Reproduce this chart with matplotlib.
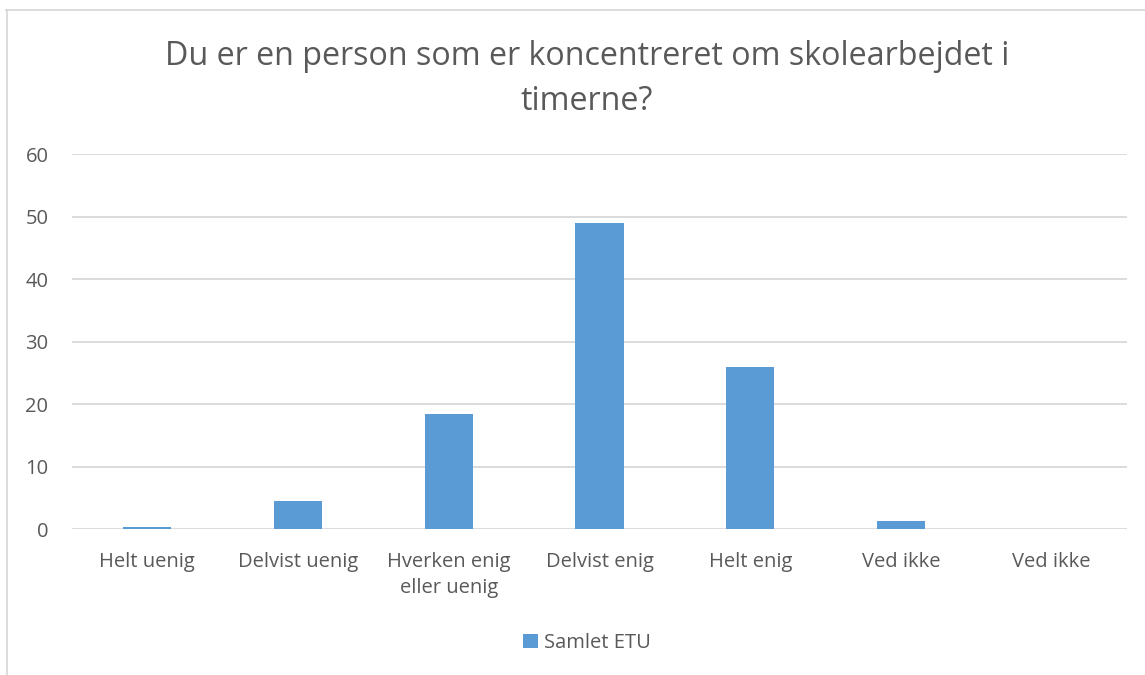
import numpy as np
import matplotlib.pyplot as plt
from matplotlib.lines import Line2D

categories = ['Helt uenig', 'Delvist uenig', 'Hverken enig\neller uenig',
              'Delvist enig', 'Helt enig', 'Ved ikke', 'Ved ikke']
values = [0.4, 4.5, 18.5, 49.0, 26.0, 1.4, 0.0]
series_name = 'Samlet ETU'
title = 'Du er en person som er koncentreret om skolearbejdet i\ntimerne?'

plt.rcParams['font.family'] = ['Open Sans', 'DejaVu Sans']
text_color = '#595959'
grid_color = '#d9d9d9'
bar_color = '#5b9bd5'

fig = plt.figure(figsize=(11.45, 6.75), dpi=100)
ax = fig.add_axes([72/1145, 1 - 529.3/675, (1127 - 72)/1145, (529.3 - 154)/675])

x = np.arange(len(categories))
ax.bar(x, values, width=0.32, color=bar_color, label=series_name, zorder=3)

ax.set_xlim(-0.5, len(categories) - 0.5)
ax.set_ylim(0, 60)
ax.set_yticks(range(0, 61, 10))
ax.set_xticks(x)
ax.set_xticklabels(categories)
ax.tick_params(axis='both', length=0, labelsize=14.5, colors=text_color)
ax.tick_params(axis='x', pad=16)
ax.tick_params(axis='y', pad=17)
for lbl in ax.get_xticklabels():
    lbl.set_linespacing(1.45)
ax.grid(axis='y', color=grid_color, linewidth=1.3, zorder=0)
for s in ax.spines.values():
    s.set_visible(False)

fig.text(587/1145, 1 - 79/675, title, ha='center', va='center',
         fontsize=23.2, color=text_color, linespacing=1.5)

leg = fig.legend(loc='center', bbox_to_anchor=(587/1145, 1 - 643/675),
                 frameon=False, fontsize=14.5, handlelength=0.7, handleheight=0.7,
                 handletextpad=0.3, labelcolor=text_color)

# chart frame (partially cropped in the reference)
fig.add_artist(Line2D([6/1145, 1], [1 - 9.5/675] * 2, color=grid_color, lw=1.3,
                      transform=fig.transFigure))
fig.add_artist(Line2D([7/1145] * 2, [0, 1 - 9.5/675], color=grid_color, lw=1.3,
                      transform=fig.transFigure))

fig.savefig('out.png', dpi=100)
